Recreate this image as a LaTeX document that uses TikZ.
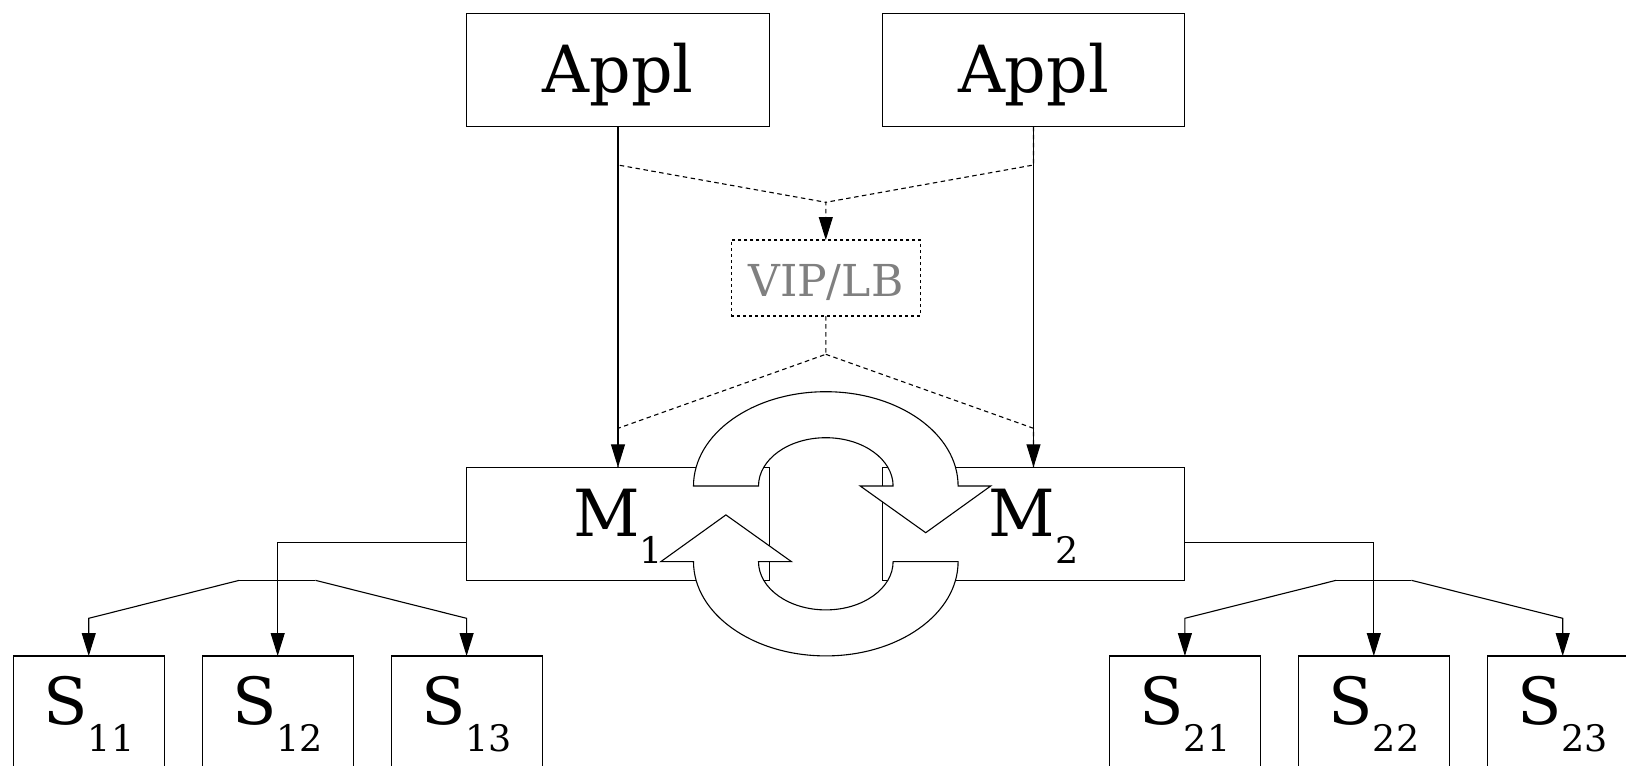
\documentclass[tikz,border=0pt]{standalone}
\usepackage{fontspec}
\setmainfont{DejaVu Serif}
\usetikzlibrary{arrows.meta}

% lowered index after a box label
\newcommand\lowidx[1]{\raisebox{-27.5pt}{\fontsize{36.5}{36.5}\selectfont #1}}

\begin{document}
\begin{tikzpicture}[x=1pt,y=-1pt,line width=1.1pt,
  every node/.style={inner sep=0pt,outer sep=0pt},
  bigfont/.style={font=\fontsize{65}{65}\selectfont},
  apbox/.style={draw,rectangle,bigfont,minimum width=302.6pt,minimum height=113pt,
                text height=50pt,text depth=5.2pt},
  mbox/.style={draw,rectangle,bigfont,minimum width=302.6pt,minimum height=113pt,
               text height=50pt,text depth=25.6pt},
  sbox/.style={draw,rectangle,bigfont,minimum width=151pt,minimum height=113pt,
               text height=50pt,text depth=27pt},
  vipbox/.style={draw,dashed,rectangle,minimum width=189pt,minimum height=76pt,
                 text=gray,font=\fontsize{44}{44}\selectfont,text height=40pt,text depth=4pt},
  link/.style={-{Triangle[length=23pt,width=14pt]}},
  dashlink/.style={dashed,dash pattern=on 4.5pt off 3.5pt},
  cyc/.style={draw,fill=white,line join=miter}
]
\useasboundingbox (0,0) rectangle (1626,766);

% boxes
\node[apbox] (a1) at (618,70.3) {Appl};
\node[apbox] (a2) at (1033.5,70.3) {Appl};
\node[vipbox] (vip) at (825.8,278) {VIP/LB};
\node[mbox] (m1) at (618,523.8) {M\lowidx{1}};
\node[mbox] (m2) at (1033.5,523.8) {M\lowidx{2}};

\node[sbox] (s11) at (88.75,712.5) {S\lowidx{11}};
\node[sbox] (s12) at (277.7,712.5) {S\lowidx{12}};
\node[sbox] (s13) at (466.6,712.5) {S\lowidx{13}};
\node[sbox] (s21) at (1184.9,712.5) {S\lowidx{21}};
\node[sbox] (s22) at (1373.8,712.5) {S\lowidx{22}};
\node[sbox] (s23) at (1562.7,712.5) {S\lowidx{23}};

% bends of the dashed paths through the balancer
\coordinate (a1k) at (618,165);
\coordinate (a2k) at (1033.5,165);
\coordinate (jt) at (825.8,202.3);
\coordinate (jb) at (825.8,354.3);
\coordinate (m1k) at (618,428.3);
\coordinate (m2k) at (1033.5,428.3);

\draw[dashlink,link] (a1.south) -- (a1k) -- (jt) -- (vip.north);
\draw[dashlink] (a2.south) -- (a2k) -- (jt);
\draw[dashlink] (vip.south) -- (jb) -- (m1k) -- (m1.north);
\draw[dashlink] (jb) -- (m2k) -- (m2.north);

% direct connections
\draw[link] (a1.south) -- (m1.north);
\draw[link] (a2.south) -- (m2.north);

% left tree
\coordinate (m1o) at ([yshift=-18.9pt]m1.west);
\draw[link] (m1o) -| (s12.north);
\coordinate (f1l) at (239.3,580.3);
\coordinate (f1r) at (315.4,580.3);
\coordinate (f1a) at (88.75,618.3);
\coordinate (f1b) at (466.6,618.3);
\draw (f1l) -- (f1r);
\draw[link] (f1l) -- (f1a) -- (s11.north);
\draw[link] (f1r) -- (f1b) -- (s13.north);

% right tree
\coordinate (m2o) at ([yshift=-18.9pt]m2.east);
\draw[link] (m2o) -| (s22.north);
\coordinate (f2l) at (1336.2,580.3);
\coordinate (f2r) at (1411.4,580.3);
\coordinate (f2a) at (1184.9,618.3);
\coordinate (f2b) at (1562.7,618.3);
\draw (f2l) -- (f2r);
\draw[link] (f2l) -- (f2a) -- (s21.north);
\draw[link] (f2r) -- (f2b) -- (s23.north);

% replication cycle between the two masters
\draw[cyc] (693.5,486)
  arc[start angle=180,end angle=0,x radius=132.3pt,y radius=94.3pt]
  -- (990.7,486) -- (925.7,532.7) -- (860.2,486) -- (893.1,486)
  arc[start angle=0,end angle=180,x radius=67.3pt,y radius=48.3pt]
  -- cycle;
\draw[cyc] (958.1,561.6)
  arc[start angle=0,end angle=-180,x radius=132.3pt,y radius=94.3pt]
  -- (660.9,561.6) -- (725.9,514.9) -- (791.4,561.6) -- (758.5,561.6)
  arc[start angle=180,end angle=360,x radius=67.3pt,y radius=48.3pt]
  -- cycle;
\end{tikzpicture}
\end{document}
